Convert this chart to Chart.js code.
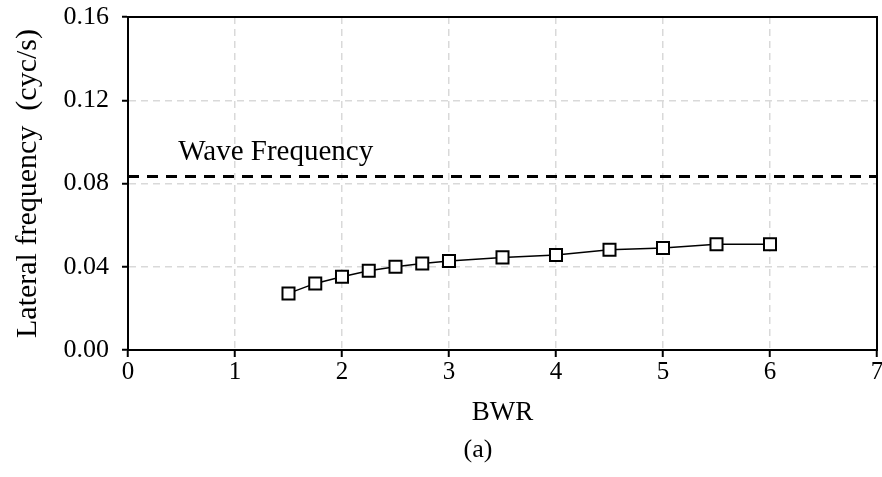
<!DOCTYPE html>
<html>
<head>
<meta charset="utf-8">
<script src="https://cdn.jsdelivr.net/npm/chart.js@4/dist/chart.umd.min.js"></script>
<style>
html,body{margin:0;padding:0;background:#fff;}
#wrap{width:882px;height:477px;}
</style>
</head>
<body>
<div id="wrap"><canvas id="c" width="882" height="477"></canvas></div>
<script>
const bwr = [1.5, 1.75, 2.0, 2.25, 2.5, 2.75, 3.0, 3.5, 4.0, 4.5, 5.0, 5.5, 6.0];
const lateralFreq = [0.0272, 0.0320, 0.0352, 0.0381, 0.0400, 0.0416, 0.0428, 0.0445, 0.0456, 0.0482, 0.0490, 0.0508, 0.0508];
const waveFreqX = [0, 7];
const waveFreqValue = 0.0834;
const waveLabel = "Wave Frequency";
const xTitle = "BWR";
const yTitle = "Lateral frequency  (cyc/s)";
const caption = "(a)";

const FONT = "'Liberation Serif', 'Times New Roman', serif";

const boxPlugin = {
  id: 'box',
  afterDraw(chart) {
    const {ctx, chartArea: a, scales} = chart;
    ctx.save();
    ctx.strokeStyle = '#000';
    ctx.lineWidth = 2;
    ctx.strokeRect(a.left, a.top, a.right - a.left, a.bottom - a.top);
    ctx.fillStyle = '#000';
    ctx.font = "29px " + FONT;
    ctx.textBaseline = 'alphabetic';
    ctx.textAlign = 'left';
    ctx.fillText(waveLabel, scales.x.getPixelForValue(0.47), scales.y.getPixelForValue(0.0915));
    ctx.font = "26px " + FONT;
    ctx.textAlign = 'center';
    ctx.textBaseline = 'middle';
    ctx.fillText(caption, 478, 450);
    ctx.restore();
  }
};

new Chart(document.getElementById('c'), {
  type: 'scatter',
  data: {
    datasets: [
      {
        data: bwr.map((x, i) => ({x, y: lateralFreq[i]})),
        showLine: true,
        borderColor: '#000',
        borderWidth: 1.5,
        pointStyle: 'rect',
        pointRadius: 8.5,
        pointBorderWidth: 2,
        pointBorderColor: '#000',
        pointBackgroundColor: '#fff',
        order: 1
      },
      {
        data: waveFreqX.map(x => ({x, y: waveFreqValue})),
        showLine: true,
        borderColor: '#000',
        borderWidth: 3,
        borderDash: [11, 8],
        pointRadius: 0,
        order: 2
      }
    ]
  },
  options: {
    responsive: false,
    animation: false,
    layout: {autoPadding: false, padding: {left: 0, right: 0, top: 17, bottom: 0}},
    plugins: {legend: {display: false}, tooltip: {enabled: false}},
    scales: {
      x: {
        type: 'linear', min: 0, max: 7,
        ticks: {stepSize: 1, color: '#000', font: {family: FONT, size: 25}, padding: 0},
        grid: {color: '#d9d9d9', lineWidth: 1.5, tickColor: '#000', tickLength: 7, tickWidth: 2},
        border: {display: true, color: '#000', width: 2, dash: [7, 5]},
        title: {display: true, text: xTitle, color: '#000', font: {family: FONT, size: 27}, padding: {top: 0, bottom: 48}},
        afterFit(s) { s.height = 127; s.paddingLeft = 0; s.paddingRight = 5; }
      },
      y: {
        min: 0, max: 0.16,
        ticks: {stepSize: 0.04, color: '#000', font: {family: FONT, size: 26}, padding: 13, callback: v => v.toFixed(2)},
        grid: {color: '#d9d9d9', lineWidth: 1.5, tickColor: '#000', tickLength: 6, tickWidth: 2},
        border: {display: true, color: '#000', width: 2, dash: [7, 5]},
        title: {display: true, text: yTitle, color: '#000', font: {family: FONT, size: 30}, padding: {top: 10, bottom: 0}},
        afterFit(s) { s.width = 128; s.paddingTop = 0; s.paddingBottom = 0; }
      }
    }
  },
  plugins: [boxPlugin]
});
</script>
</body>
</html>
